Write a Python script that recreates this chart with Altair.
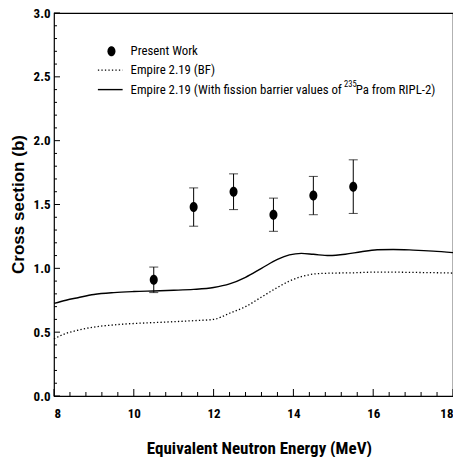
import altair as alt
import pandas as pd

# ---- data ----
exp_E = [10.5, 11.5, 12.5, 13.5, 14.5, 15.5]
exp_xs = [0.91, 1.48, 1.60, 1.42, 1.57, 1.64]
exp_lo = [0.81, 1.33, 1.46, 1.29, 1.42, 1.43]
exp_hi = [1.01, 1.63, 1.74, 1.55, 1.72, 1.85]

solid_E = [8.0, 8.3, 8.6, 9.0, 9.5, 10.0, 10.5, 11.0, 11.5, 12.0, 12.4, 12.8, 13.2, 13.6, 13.9, 14.2, 14.5, 14.9, 15.3, 15.7, 16.1, 16.5, 17.0, 17.5, 18.0]
solid_xs = [0.725, 0.75, 0.77, 0.795, 0.81, 0.818, 0.823, 0.828, 0.835, 0.85, 0.878, 0.93, 1.00, 1.07, 1.105, 1.117, 1.11, 1.10, 1.11, 1.13, 1.145, 1.148, 1.143, 1.135, 1.123]

dot_E = [8.0, 8.3, 8.6, 9.0, 9.5, 10.0, 10.5, 11.0, 11.5, 12.0, 12.4, 12.8, 13.2, 13.6, 13.9, 14.2, 14.5, 14.9, 15.5, 16.0, 16.5, 17.0, 17.5, 18.0]
dot_xs = [0.448, 0.49, 0.515, 0.54, 0.557, 0.568, 0.575, 0.582, 0.59, 0.60, 0.648, 0.70, 0.775, 0.85, 0.90, 0.935, 0.955, 0.962, 0.965, 0.97, 0.97, 0.968, 0.966, 0.963]

x_major = [8, 10, 12, 14, 16, 18]
x_minor = [8.4, 8.8, 9.2, 9.6, 10.4, 10.8, 11.2, 11.6, 12.4, 12.8, 13.2, 13.6, 14.4, 14.8, 15.2, 15.6, 16.4, 16.8, 17.2, 17.6]
y_major = [0.0, 0.5, 1.0, 1.5, 2.0, 2.5, 3.0]
y_minor = [0.1, 0.2, 0.3, 0.4, 0.6, 0.7, 0.8, 0.9, 1.1, 1.2, 1.3, 1.4, 1.6, 1.7, 1.8, 1.9, 2.1, 2.2, 2.3, 2.4, 2.6, 2.7, 2.8, 2.9]

legend_labels = ["Present Work", "Empire 2.19 (BF)", "Empire 2.19 (With fission barrier values of "]
legend_y = [2.70, 2.552, 2.40]
legend_text_x = 9.92
sup_text = "235"
tail_text = "Pa from RIPL-2)"

NARROW = "Roboto Condensed, Liberation Sans Narrow, Arial Narrow, Roboto, sans-serif"
BOLD = "Liberation Sans, Arial, sans-serif"
LEG_FS = 12.8

xs = alt.Scale(domain=[8, 18], nice=False, zero=False)
ys = alt.Scale(domain=[0, 3], nice=False, zero=False)

exp = pd.DataFrame({"E": exp_E, "xs": exp_xs, "lo": exp_lo, "hi": exp_hi})
solid = pd.DataFrame({"E": solid_E, "xs": solid_xs})
dotted = pd.DataFrame({"E": dot_E, "xs": dot_xs})

base_x = alt.X("E:Q", scale=xs, axis=alt.Axis(
    title="Equivalent Neutron Energy  (MeV)", values=x_major, format="d",
    ticks=False, domain=False, grid=False, labelFont=NARROW, labelFontWeight="bold",
    labelFontSize=13, labelColor="black", labelPadding=11,
    titleFont=NARROW, titleFontWeight="bold", titleFontSize=17, titleColor="black",
    titleX=205, titleY=57, titleBaseline="alphabetic"))
base_y = alt.Y("xs:Q", scale=ys, axis=alt.Axis(
    title="Cross section (b)", values=y_major, format=".1f",
    ticks=False, domain=False, grid=False, labelFont=NARROW, labelFontWeight="bold",
    labelFontSize=13, labelColor="black", labelPadding=4,
    titleFont=BOLD, titleFontWeight="bold", titleFontSize=17, titleColor="black",
    titleX=-36, titleY=191, titleBaseline="middle"))

solid_line = alt.Chart(solid).mark_line(color="black", strokeWidth=1.4, interpolate="monotone").encode(x=base_x, y=base_y)
dot_line = alt.Chart(dotted).mark_line(color="black", strokeWidth=1.3, strokeDash=[1.3, 2.2], interpolate="monotone").encode(
    x=alt.X("E:Q", scale=xs), y=alt.Y("xs:Q", scale=ys))

err_rule = alt.Chart(exp).mark_rule(color="black", strokeWidth=1).encode(
    x=alt.X("E:Q", scale=xs), y=alt.Y("lo:Q", scale=ys), y2="hi:Q")
cap_hi = alt.Chart(exp).mark_tick(color="black", orient="horizontal", size=9, thickness=1).encode(
    x=alt.X("E:Q", scale=xs), y=alt.Y("hi:Q", scale=ys))
cap_lo = alt.Chart(exp).mark_tick(color="black", orient="horizontal", size=9, thickness=1).encode(
    x=alt.X("E:Q", scale=xs), y=alt.Y("lo:Q", scale=ys))
ellipse = "M -0.8 0 A 0.8 1 0 1 0 0.8 0 A 0.8 1 0 1 0 -0.8 0 Z"
pts = alt.Chart(exp).mark_point(shape=ellipse, filled=True, color="black", opacity=1, size=100).encode(
    x=alt.X("E:Q", scale=xs), y=alt.Y("xs:Q", scale=ys))

# ticks drawn inward
xt_major = alt.Chart(pd.DataFrame({"E": x_major})).mark_rule(color="black", strokeWidth=1).encode(
    x=alt.X("E:Q", scale=xs), y=alt.value(383), y2=alt.value(376))
xt_minor = alt.Chart(pd.DataFrame({"E": x_minor})).mark_rule(color="black", strokeWidth=1).encode(
    x=alt.X("E:Q", scale=xs), y=alt.value(383), y2=alt.value(379))
yt_major = alt.Chart(pd.DataFrame({"v": y_major})).mark_rule(color="black", strokeWidth=1).encode(
    y=alt.Y("v:Q", scale=ys), x=alt.value(0), x2=alt.value(6))
yt_minor = alt.Chart(pd.DataFrame({"v": y_minor})).mark_rule(color="black", strokeWidth=1).encode(
    y=alt.Y("v:Q", scale=ys), x=alt.value(0), x2=alt.value(3))

# legend
leg_pt = alt.Chart(pd.DataFrame({"E": [9.44], "v": [legend_y[0]]})).mark_point(
    shape=ellipse, filled=True, color="black", opacity=1, size=100).encode(
    x=alt.X("E:Q", scale=xs), y=alt.Y("v:Q", scale=ys))
leg_dot = alt.Chart(pd.DataFrame({"E": [9.1, 9.72], "v": [legend_y[1]] * 2})).mark_line(
    color="black", strokeWidth=1.3, strokeDash=[1.3, 2.2]).encode(
    x=alt.X("E:Q", scale=xs), y=alt.Y("v:Q", scale=ys))
leg_solid = alt.Chart(pd.DataFrame({"E": [9.1, 9.72], "v": [legend_y[2]] * 2})).mark_line(
    color="black", strokeWidth=1.4).encode(
    x=alt.X("E:Q", scale=xs), y=alt.Y("v:Q", scale=ys))
leg_text = alt.Chart(pd.DataFrame({"E": [legend_text_x] * 3, "v": legend_y, "t": legend_labels})).mark_text(
    align="left", baseline="middle", font=NARROW, fontSize=LEG_FS, color="black").encode(
    x=alt.X("E:Q", scale=xs), y=alt.Y("v:Q", scale=ys), text="t:N")
leg_sup = alt.Chart(pd.DataFrame({"E": [15.27], "v": [legend_y[2] + 0.04], "t": [sup_text]})).mark_text(
    align="left", baseline="middle", font=NARROW, fontSize=8.5, color="black").encode(
    x=alt.X("E:Q", scale=xs), y=alt.Y("v:Q", scale=ys), text="t:N")
leg_tail = alt.Chart(pd.DataFrame({"E": [15.56], "v": [legend_y[2]], "t": [tail_text]})).mark_text(
    align="left", baseline="middle", font=NARROW, fontSize=LEG_FS, color="black").encode(
    x=alt.X("E:Q", scale=xs), y=alt.Y("v:Q", scale=ys), text="t:N")

chart = alt.layer(
    solid_line, dot_line, err_rule, cap_hi, cap_lo, pts,
    xt_major, xt_minor, yt_major, yt_minor,
    leg_pt, leg_dot, leg_solid, leg_text, leg_sup, leg_tail,
).properties(
    width=399, height=383,
    autosize=alt.AutoSizeParams(type="none"),
    padding={"left": 46, "top": 5, "right": 0, "bottom": 61},
    background="white",
).configure_view(stroke="black", strokeWidth=1.2)

chart.save("out.html", embed_options={"renderer": "svg", "actions": False})
